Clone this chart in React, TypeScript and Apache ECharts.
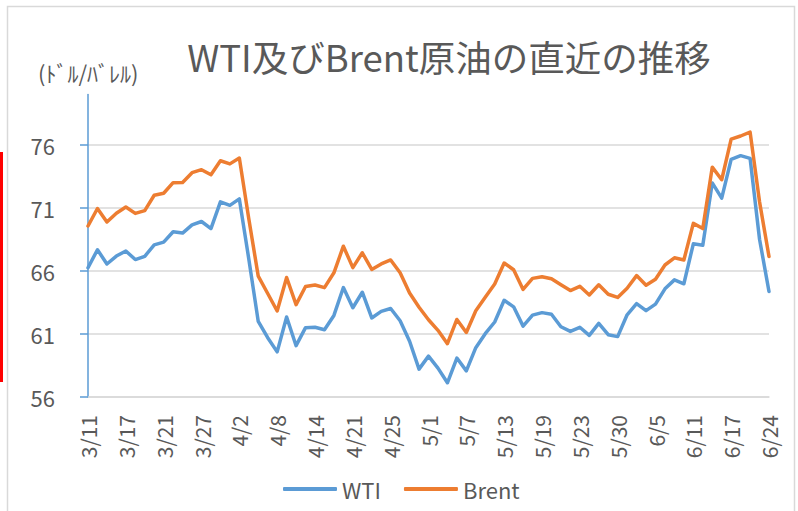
import React, { useEffect, useRef } from "react";
import * as echarts from "echarts";

const dates = [
  "3/11","3/12","3/13","3/14","3/17","3/18","3/19","3/20","3/21","3/24","3/25","3/26","3/27","3/28","3/31",
  "4/1","4/2","4/3","4/4","4/7","4/8","4/9","4/10","4/11","4/14","4/15","4/16","4/17","4/21","4/22","4/23","4/24","4/25","4/28","4/29","4/30",
  "5/1","5/2","5/5","5/6","5/7","5/8","5/9","5/12","5/13","5/14","5/15","5/16","5/19","5/20","5/21","5/22","5/23","5/27","5/28","5/29","5/30",
  "6/2","6/3","6/4","6/5","6/6","6/9","6/10","6/11","6/12","6/13","6/16","6/17","6/18","6/20","6/23","6/24",
];

const wti = [
  66.25, 67.68, 66.55, 67.18, 67.58, 66.9, 67.16, 68.07, 68.28, 69.11, 69.0, 69.65, 69.92, 69.36, 71.48,
  71.2, 71.71, 66.95, 61.99, 60.7, 59.58, 62.35, 60.07, 61.5, 61.53, 61.33, 62.47, 64.68, 63.08, 64.31, 62.27, 62.79, 63.02, 62.05, 60.42, 58.21,
  59.24, 58.29, 57.13, 59.09, 58.07, 59.91, 61.02, 61.95, 63.67, 63.15, 61.62, 62.49, 62.69, 62.56, 61.57, 61.2, 61.53, 60.89, 61.84, 60.94, 60.79,
  62.52, 63.41, 62.85, 63.37, 64.58, 65.29, 64.98, 68.15, 68.04, 72.98, 71.77, 74.84, 75.14, 74.93, 68.51, 64.37,
];

const brent = [
  69.56, 70.95, 69.88, 70.58, 71.07, 70.56, 70.78, 72.0, 72.16, 73.0, 73.02, 73.79, 74.03, 73.63, 74.74,
  74.49, 74.95, 70.14, 65.58, 64.21, 62.82, 65.48, 63.33, 64.76, 64.88, 64.67, 65.85, 67.96, 66.26, 67.44, 66.12, 66.55, 66.87, 65.86, 64.25, 63.12,
  62.13, 61.29, 60.23, 62.15, 61.12, 62.84, 63.91, 64.96, 66.63, 66.09, 64.53, 65.41, 65.54, 65.38, 64.91, 64.44, 64.78, 64.09, 64.9, 64.15, 63.9,
  64.63, 65.63, 64.86, 65.34, 66.47, 67.04, 66.87, 69.77, 69.36, 74.23, 73.23, 76.45, 76.7, 77.01, 71.48, 67.14,
];

const yTicks = [56, 61, 66, 71, 76];

const FONT = "'Noto Sans CJK JP', 'Noto Sans', sans-serif";
const TEXT = "#595959";

export default function App() {
  const ref = useRef<HTMLDivElement>(null);
  useEffect(() => {
    if (!ref.current) return;
    const chart = echarts.init(ref.current, undefined, { renderer: "svg" });
    chart.setOption({
      animation: false,
      backgroundColor: "#ffffff",
      textStyle: { fontFamily: FONT },
      title: {
        text: "WTI及びBrent原油の直近の推移",
        left: 444,
        top: 33,
        textAlign: "center",
        textStyle: { fontFamily: FONT, fontSize: 36.5, fontWeight: "normal", color: TEXT },
      },
      graphic: [
        {
          type: "rect",
          shape: { x: 7.5, y: 6.5, width: 787, height: 520 },
          style: { fill: "none", stroke: "#d9d9d9", lineWidth: 1.5 },
          silent: true,
        },
        {
          type: "rect",
          shape: { x: 0, y: 152, width: 3, height: 230 },
          style: { fill: "#ff0000" },
          silent: true,
        },
        {
          type: "text",
          x: 38,
          y: 61,
          style: { text: "(ﾄﾞﾙ/ﾊﾞﾚﾙ)", fontFamily: FONT, fontSize: 22, fill: TEXT },
          silent: true,
        },
      ],
      legend: {
        bottom: 6,
        left: 278,
        itemWidth: 54,
        itemHeight: 4,
        itemGap: 23,
        icon: "roundRect",
        textStyle: { fontFamily: FONT, fontSize: 22, color: TEXT },
        data: ["WTI", "Brent"],
      },
      grid: { left: 88, right: 29, top: 94.4, bottom: 114, containLabel: false },
      xAxis: {
        type: "category",
        data: dates,
        boundaryGap: false,
        axisLine: { lineStyle: { color: "#d9d9d9", width: 1.5 } },
        axisTick: { show: false },
        axisLabel: {
          interval: 3,
          rotate: 90,
          margin: 18,
          fontFamily: FONT,
          fontSize: 21,
          color: TEXT,
        },
        splitLine: { show: false },
      },
      yAxis: {
        type: "value",
        min: 56,
        max: 80,
        interval: 5,
        axisLine: { show: true, lineStyle: { color: "#5B9BD5", width: 1.5 } },
        axisTick: { show: true, length: 8, customValues: yTicks, lineStyle: { color: "#5B9BD5", width: 1.5 } },
        axisLabel: {
          customValues: yTicks,
          margin: 33,
          fontFamily: FONT,
          fontSize: 22,
          color: TEXT,
        },
        splitLine: { show: true, lineStyle: { color: "#d9d9d9", width: 1.5 } },
      },
      series: [
        {
          name: "WTI",
          type: "line",
          data: wti,
          symbol: "none",
          lineStyle: { color: "#5B9BD5", width: 3.5, join: "round", cap: "round" },
          itemStyle: { color: "#5B9BD5" },
        },
        {
          name: "Brent",
          type: "line",
          data: brent,
          symbol: "none",
          lineStyle: { color: "#ED7D31", width: 3.5, join: "round", cap: "round" },
          itemStyle: { color: "#ED7D31" },
        },
      ],
    });
    return () => chart.dispose();
  }, []);
  return (
    <div
      ref={ref}
      style={{ position: "fixed", left: 0, top: 0, width: 798, height: 511 }}
    />
  );
}
